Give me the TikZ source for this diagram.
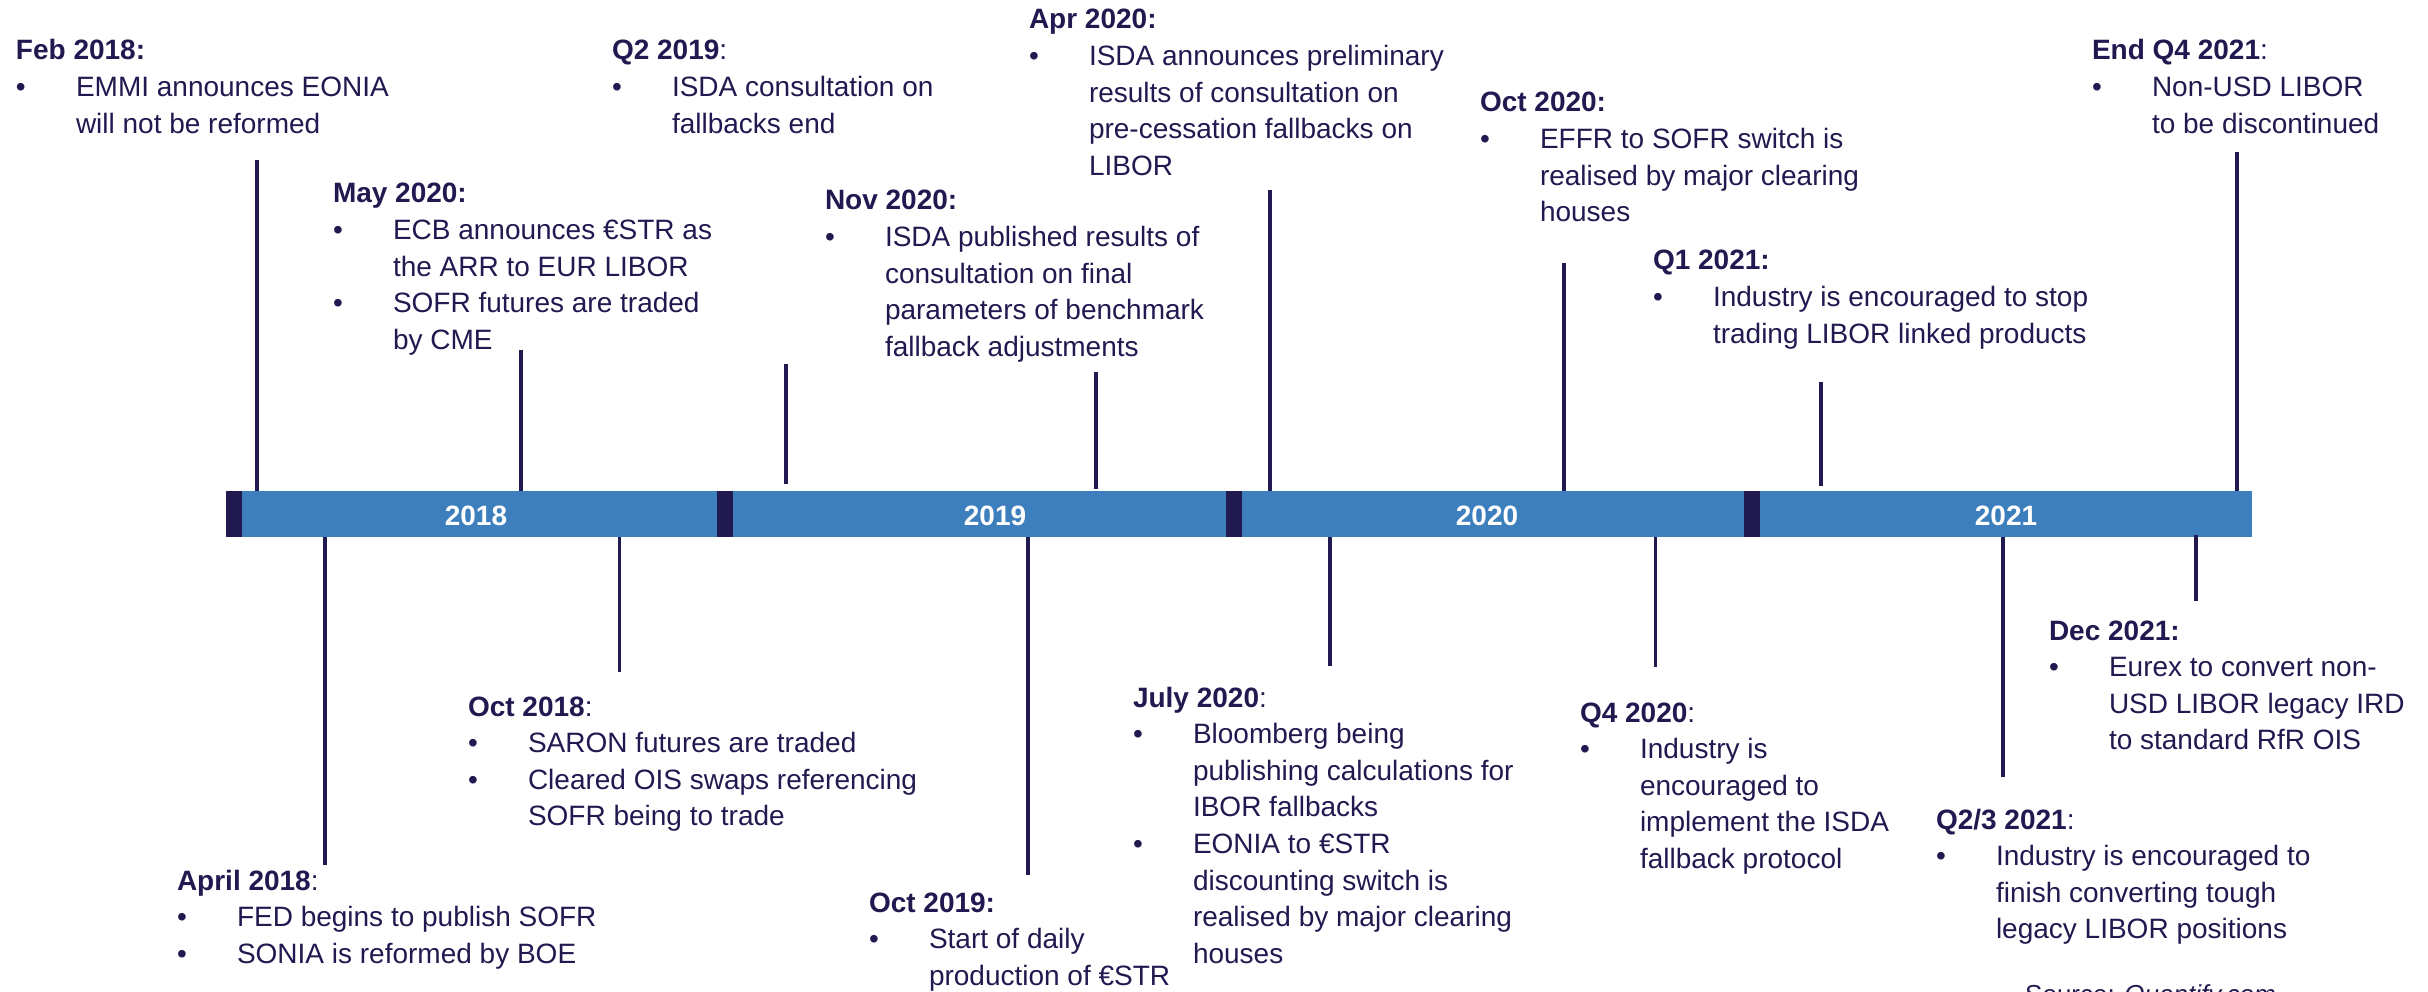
\documentclass[tikz,border=0pt]{standalone}
\usepackage{fontspec}
\setmainfont{Liberation Sans}
\definecolor{navy}{RGB}{32,26,80}
\definecolor{barblue}{RGB}{61,126,189}
\newcommand\fsz{\fontsize{28}{34}\selectfont}
\tikzset{
  ttl/.style={anchor=base west, inner sep=0pt, outer sep=0pt, text=navy, font=\fsz},
  txt/.style={anchor=base west, inner sep=0pt, outer sep=0pt, text=navy, font=\fsz},
  bul/.style={anchor=base west, inner sep=0pt, outer sep=0pt, text=navy, font=\fsz},
  tick/.style={draw=navy, line width=3.3pt},
  yr/.style={anchor=base, inner sep=0pt, text=white, font=\fsz\bfseries},
  capc/.style={fill=navy},
  src/.style={anchor=base west, inner sep=0pt, text=navy, font=\fontsize{26}{30}\selectfont},
}
\newcommand\evtitle[4]{\node[ttl] (#1) at (#2,#3) {#4};}
\newcommand\evitem[5]{\node[bul] (#1d) at (#2,#3+#4*36.6) {•};\node[txt] (#1) at (#2+60,#3+#4*36.6) {#5};}
\newcommand\evcont[5]{\node[txt] (#1) at (#2+60,#3+#4*36.6) {#5};}
\begin{document}
\begin{tikzpicture}[x=1pt,y=-1pt]
\fill[white] (0,0) rectangle (2428,992);
\useasboundingbox (0,0) rectangle (2428,992);

% ---- timeline bar ----
\node[fill=barblue, inner sep=0pt, outer sep=0pt, minimum width=2026pt, minimum height=46pt, anchor=north west] (bar) at (226,491) {};
\fill[capc] (226,491) rectangle (242,537);
\fill[capc] (717,491) rectangle (733,537);
\fill[capc] (1226,491) rectangle (1242,537);
\fill[capc] (1744,491) rectangle (1760,537);
\node[yr] (y2018) at (476,525) {2018};
\node[yr] (y2019) at (995,525) {2019};
\node[yr] (y2020) at (1487,525) {2020};
\node[yr] (y2021) at (2006,525) {2021};

% ---- ticks above ----
\coordinate (tFeb) at (257,160);
\coordinate (tMay) at (521,350);
\coordinate (tQtwoA) at (786,364); \coordinate (tQtwoB) at (786,484);
\coordinate (tNovA) at (1096,372); \coordinate (tNovB) at (1096,489);
\coordinate (tApr) at (1270,190);
\coordinate (tOctT) at (1564,263);
\coordinate (tQoneA) at (1821,382); \coordinate (tQoneB) at (1821,486);
\coordinate (tEnd) at (2237,152);
\draw[tick] (tFeb) -- (tFeb |- bar.north);
\draw[tick] (tMay) -- (tMay |- bar.north);
\draw[tick] (tQtwoA) -- (tQtwoB);
\draw[tick] (tNovA) -- (tNovB);
\draw[tick] (tApr) -- (tApr |- bar.north);
\draw[tick] (tOctT) -- (tOctT |- bar.north);
\draw[tick] (tQoneA) -- (tQoneB);
\draw[tick] (tEnd) -- (tEnd |- bar.north);

% ---- ticks below ----
\coordinate (bApril) at (325,865);
\coordinate (bOctE) at (619.5,672);
\coordinate (bOctN) at (1028,875);
\coordinate (bJuly) at (1330,666);
\coordinate (bQfour) at (1655.5,667);
\coordinate (bQtt) at (2003,777);
\coordinate (bDecA) at (2196,535); \coordinate (bDecB) at (2196,601);
\draw[tick] (bApril |- bar.south) -- (bApril);
\draw[tick] (bOctE |- bar.south) -- (bOctE);
\draw[tick] (bOctN |- bar.south) -- (bOctN);
\draw[tick] (bJuly |- bar.south) -- (bJuly);
\draw[tick] (bQfour |- bar.south) -- (bQfour);
\draw[tick] (bQtt |- bar.south) -- (bQtt);
\draw[tick] (bDecA) -- (bDecB);

% ---- upper texts ----
\evtitle{feb}{16}{60}{\textbf{Feb 2018:}}
\evitem{feba}{16}{60}{1}{EMMI announces EONIA}
\evcont{febb}{16}{60}{2}{will not be reformed}

\evtitle{qtwo}{612}{60}{\textbf{Q2 2019}:}
\evitem{qtwoa}{612}{60}{1}{ISDA consultation on}
\evcont{qtwob}{612}{60}{2}{fallbacks end}

\evtitle{apr}{1029}{29}{\textbf{Apr 2020:}}
\evitem{apra}{1029}{29}{1}{ISDA announces preliminary}
\evcont{aprb}{1029}{29}{2}{results of consultation on}
\evcont{aprc}{1029}{29}{3}{pre-cessation fallbacks on}
\evcont{aprd}{1029}{29}{4}{LIBOR}

\evtitle{endq}{2092}{60}{\textbf{End Q4 2021}:}
\evitem{endqa}{2092}{60}{1}{Non-USD LIBOR}
\evcont{endqb}{2092}{60}{2}{to be discontinued}

\evtitle{may}{333}{203}{\textbf{May 2020:}}
\evitem{maya}{333}{203}{1}{ECB announces €STR as}
\evcont{mayb}{333}{203}{2}{the ARR to EUR LIBOR}
\evitem{mayc}{333}{203}{3}{SOFR futures are traded}
\evcont{mayd}{333}{203}{4}{by CME}

\evtitle{nov}{825}{210}{\textbf{Nov 2020:}}
\evitem{nova}{825}{210}{1}{ISDA published results of}
\evcont{novb}{825}{210}{2}{consultation on final}
\evcont{novc}{825}{210}{3}{parameters of benchmark}
\evcont{novd}{825}{210}{4}{fallback adjustments}

\evtitle{octt}{1480}{112}{\textbf{Oct 2020:}}
\evitem{octta}{1480}{112}{1}{EFFR to SOFR switch is}
\evcont{outtb}{1480}{112}{2}{realised by major clearing}
\evcont{outtc}{1480}{112}{3}{houses}

\evtitle{qone}{1653}{270}{\textbf{Q1 2021:}}
\evitem{qonea}{1653}{270}{1}{Industry is encouraged to stop}
\evcont{qoneb}{1653}{270}{2}{trading LIBOR linked products}

% ---- lower texts ----
\evtitle{octe}{468}{716}{\textbf{Oct 2018}:}
\evitem{octea}{468}{716}{1}{SARON futures are traded}
\evitem{octeb}{468}{716}{2}{Cleared OIS swaps referencing}
\evcont{octec}{468}{716}{3}{SOFR being to trade}

\evtitle{april}{177}{890}{\textbf{April 2018}:}
\evitem{aprila}{177}{890}{1}{FED begins to publish SOFR}
\evitem{aprilb}{177}{890}{2}{SONIA is reformed by BOE}

\evtitle{octn}{869}{912}{\textbf{Oct 2019:}}
\evitem{octna}{869}{912}{1}{Start of daily}
\evcont{octnb}{869}{912}{2}{production of €STR}

\evtitle{july}{1133}{707}{\textbf{July 2020}:}
\evitem{julya}{1133}{707}{1}{Bloomberg being}
\evcont{julyb}{1133}{707}{2}{publishing calculations for}
\evcont{julyc}{1133}{707}{3}{IBOR fallbacks}
\evitem{julyd}{1133}{707}{4}{EONIA to €STR}
\evcont{julye}{1133}{707}{5}{discounting switch is}
\evcont{julyf}{1133}{707}{6}{realised by major clearing}
\evcont{julyg}{1133}{707}{7}{houses}

\evtitle{qfour}{1580}{722}{\textbf{Q4 2020}:}
\evitem{qfoura}{1580}{722}{1}{Industry is}
\evcont{qfourb}{1580}{722}{2}{encouraged to}
\evcont{qfourc}{1580}{722}{3}{implement the ISDA}
\evcont{qfourd}{1580}{722}{4}{fallback protocol}

\evtitle{dec}{2049}{640}{\textbf{Dec 2021:}}
\evitem{deca}{2049}{640}{1}{Eurex to convert non-}
\evcont{decb}{2049}{640}{2}{USD LIBOR legacy IRD}
\evcont{decc}{2049}{640}{3}{to standard RfR OIS}

\evtitle{qtt}{1936}{829}{\textbf{Q2/3 2021}:}
\evitem{qtta}{1936}{829}{1}{Industry is encouraged to}
\evcont{qttb}{1936}{829}{2}{finish converting tough}
\evcont{qttc}{1936}{829}{3}{legacy LIBOR positions}

\node[src] (source) at (2025,1003) {Source: \textit{Quantify.com}};
\end{tikzpicture}
\end{document}
